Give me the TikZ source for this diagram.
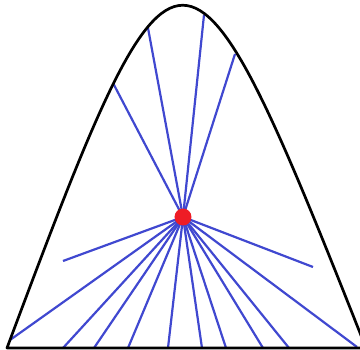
\documentclass[tikz,border=0pt]{standalone}
\usepackage{tikz}
\definecolor{RayBlue}{HTML}{4048D0}
\definecolor{DotRed}{HTML}{EE1C25}

\begin{document}
\begin{tikzpicture}[x=1pt, y=-1pt]
    \useasboundingbox (0,0) rectangle (360,350);
    \clip (0,0) rectangle (360,350);
    \coordinate (o) at (183,217);
    \foreach \px/\py [count=\i] in {113/83, 148/28, 204/15, 235/54, 63/261, 313/267,
        10/340, 63/348, 94/348, 128/348, 168/348, 202/348, 226/348, 263/348, 289/348, 357/347}
      \coordinate (e\i) at (\px,\py);
    \foreach \i in {1,...,16}
      \draw[line width=2.2pt, color=RayBlue] (o) -- (e\i);
    \draw[line width=2.7pt, line join=round] (7,348) .. controls (178,-109) and (185,-109) .. (366,348) -- cycle;
    \node[circle, fill=DotRed, inner sep=0pt, minimum size=17pt] (dot) at (o) {};
  \end{tikzpicture}
\end{document}
